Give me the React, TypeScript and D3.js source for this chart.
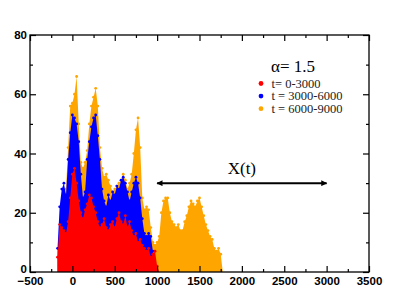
import React, { useEffect, useRef } from 'react';
import * as d3 from 'd3';

// x positions of the sampled envelope (particle position)
const positions = [
  -175, -150, -125, -100, -75, -50, -25, 0, 25, 50,
  75, 100, 125, 150, 175, 200, 225, 250, 275, 300,
  325, 350, 375, 400, 425, 450, 475, 500, 525, 550,
  575, 600, 625, 650, 675, 700, 725, 750, 775, 800,
  825, 850, 875, 900, 925, 950, 975, 1000, 1025, 1050,
  1075, 1100, 1125, 1150, 1175, 1200, 1225, 1250, 1275, 1300,
  1325, 1350, 1375, 1400, 1425, 1450, 1475, 1500, 1525, 1550,
  1575, 1600, 1625, 1650, 1675, 1700, 1725, 1750, 1775,
];

// t = 0-3000
const redTop = [
  5, 16, 15, 14, 13, 17, 25, 33, 35, 30,
  24, 20, 18, 21, 23, 26, 25, 22, 20, 17,
  15, 16, 18, 15, 14, 16, 17, 15, 18, 20,
  17, 16, 19, 15, 17, 14, 12, 13, 10, 11,
  9, 8, 7, 8, 5, 6, 7, 2, 0, 0,
  0, 0, 0, 0, 0, 0, 0, 0, 0, 0,
  0, 0, 0, 0, 0, 0, 0, 0, 0, 0,
  0, 0, 0, 0, 0, 0, 0, 0, 0,
];

// t = 3000-6000
const blueTop = [
  8, 22, 28, 30, 26, 38, 47, 53, 52, 50,
  44, 33, 25, 27, 38, 44, 49, 52, 53, 46,
  38, 28, 24, 22, 26, 24, 27, 26, 29, 28,
  31, 32, 30, 27, 24, 27, 30, 32, 30, 25,
  18, 13, 12, 13, 12, 7, 0, 0, 0, 0,
  0, 0, 0, 0, 0, 0, 0, 0, 0, 0,
  0, 0, 0, 0, 0, 0, 0, 0, 0, 0,
  0, 0, 0, 0, 0, 0, 0, 0, 0,
];

// t = 6000-9000
const orangeTop = [
  0, 0, 0, 22, 28, 42, 56, 57, 60, 66,
  50, 37, 35, 37, 41, 50, 56, 59, 62, 56,
  42, 35, 32, 33, 31, 29, 27, 28, 29, 30,
  31, 33, 31, 28, 30, 33, 40, 48, 52, 42,
  25, 21, 22, 21, 15, 10, 9, 10, 12, 20,
  24, 25, 25, 20, 17, 16, 15, 16, 14, 14,
  17, 19, 22, 24, 23, 22, 24, 25, 22, 19,
  16, 14, 12, 11, 8, 7, 8, 6, 0,
];

const seriesNames = ['t= 0-3000', 't = 3000-6000', 't = 6000-9000'];
const seriesColors = ['#ff0000', '#0000ff', '#ffa500'];

const xMajor = [-500, 0, 500, 1000, 1500, 2000, 2500, 3000, 3500];
const xMinor = [-250, 250, 750, 1250, 1750, 2250, 2750, 3250];
const yMajor = [0, 20, 40, 60, 80];
const yMinor = [10, 30, 50, 70];

const arrowFrom = 1000;
const arrowTo = 3000;
const arrowLevel = 30;

const W = 396;
const H = 306;

const Chart = () => {
  const svgRef = useRef(null);

  useEffect(() => {
    const svg = d3.select(svgRef.current);
    svg.selectAll('*').remove();

    const left = 30, right = 369, top = 35, bottom = 272;
    const x = d3.scaleLinear().domain([-500, 3500]).range([left, right]);
    const y = d3.scaleLinear().domain([0, 80]).range([bottom, top]);

    svg.append('rect').attr('width', W).attr('height', H).attr('fill', '#fff');

    const defs = svg.append('defs');
    defs.append('clipPath').attr('id', 'plot-clip')
      .append('rect')
      .attr('x', left).attr('y', top)
      .attr('width', right - left).attr('height', bottom - top);

    defs.append('marker')
      .attr('id', 'arrow-head')
      .attr('viewBox', '0 0 10 10')
      .attr('refX', 9).attr('refY', 5)
      .attr('markerWidth', 7).attr('markerHeight', 6)
      .attr('markerUnits', 'userSpaceOnUse')
      .attr('orient', 'auto-start-reverse')
      .append('path')
      .attr('d', 'M0,0 L10,5 L0,10 Z')
      .attr('fill', '#000');

    const plot = svg.append('g').attr('clip-path', 'url(#plot-clip)');

    const area = d3.area()
      .x((d, i) => x(positions[i]))
      .y0(y(0))
      .y1(d => y(d))
      .curve(d3.curveLinear);

    // back to front: late times first
    const layers = [
      { values: orangeTop, color: seriesColors[2] },
      { values: blueTop, color: seriesColors[1] },
      { values: redTop, color: seriesColors[0] },
    ];

    layers.forEach(layer => {
      plot.append('path')
        .datum(layer.values)
        .attr('d', area)
        .attr('fill', layer.color);

      plot.append('g')
        .selectAll('circle')
        .data(layer.values.map((v, i) => [positions[i], v]).filter(d => d[1] > 0))
        .enter()
        .append('circle')
        .attr('cx', d => x(d[0]))
        .attr('cy', d => y(d[1]))
        .attr('r', 1.4)
        .attr('fill', layer.color);
    });

    // ticks on all four sides, pointing inward
    const tickStyle = g => {
      g.select('.domain').remove();
      g.selectAll('line').attr('stroke', '#000').attr('stroke-width', 1.2);
      g.selectAll('text')
        .attr('fill', '#000')
        .style('font-family', '"Liberation Sans", Arial, sans-serif')
        .style('font-size', '11.5px')
        .style('font-weight', 'bold');
    };

    svg.append('g').attr('transform', `translate(0,${bottom})`)
      .call(d3.axisBottom(x).tickValues(xMajor).tickSize(-6).tickPadding(5).tickFormat(d3.format('d')))
      .call(tickStyle);
    svg.append('g').attr('transform', `translate(0,${bottom})`)
      .call(d3.axisBottom(x).tickValues(xMinor).tickSize(-3).tickFormat(() => ''))
      .call(tickStyle);
    svg.append('g').attr('transform', `translate(0,${top})`)
      .call(d3.axisTop(x).tickValues(xMajor).tickSize(-6).tickFormat(() => ''))
      .call(tickStyle);
    svg.append('g').attr('transform', `translate(0,${top})`)
      .call(d3.axisTop(x).tickValues(xMinor).tickSize(-3).tickFormat(() => ''))
      .call(tickStyle);

    const yAxis = svg.append('g').attr('transform', `translate(${left},0)`)
      .call(d3.axisLeft(y).tickValues(yMajor).tickSize(-6).tickPadding(3))
      .call(tickStyle);
    // lift the bottom "0" a touch so it clears the "-500" below it
    yAxis.selectAll('.tick text').filter(d => d === 0).attr('dy', '0.05em');

    svg.append('g').attr('transform', `translate(${left},0)`)
      .call(d3.axisLeft(y).tickValues(yMinor).tickSize(-3).tickFormat(() => ''))
      .call(tickStyle);
    svg.append('g').attr('transform', `translate(${right},0)`)
      .call(d3.axisRight(y).tickValues(yMajor).tickSize(-6).tickFormat(() => ''))
      .call(tickStyle);
    svg.append('g').attr('transform', `translate(${right},0)`)
      .call(d3.axisRight(y).tickValues(yMinor).tickSize(-3).tickFormat(() => ''))
      .call(tickStyle);

    svg.append('rect')
      .attr('x', left).attr('y', top)
      .attr('width', right - left).attr('height', bottom - top)
      .attr('fill', 'none')
      .attr('stroke', '#000')
      .attr('stroke-width', 1.3);

    // X(t) arrow
    svg.append('line')
      .attr('x1', x(arrowFrom)).attr('x2', x(arrowTo))
      .attr('y1', y(arrowLevel)).attr('y2', y(arrowLevel))
      .attr('stroke', '#000')
      .attr('stroke-width', 2)
      .attr('marker-start', 'url(#arrow-head)')
      .attr('marker-end', 'url(#arrow-head)');

    const serif = '"Liberation Serif", "Times New Roman", serif';

    svg.append('text')
      .attr('x', (x(arrowFrom) + x(arrowTo)) / 2)
      .attr('y', y(arrowLevel) - 9)
      .attr('text-anchor', 'middle')
      .style('font-family', serif)
      .style('font-size', '17px')
      .text('X(t)');

    // legend
    svg.append('text')
      .attr('x', 271)
      .attr('y', 72)
      .style('font-family', serif)
      .style('font-size', '17px')
      .text('α= 1.5');

    const legend = svg.append('g')
      .selectAll('g')
      .data(seriesNames)
      .enter()
      .append('g')
      .attr('transform', (d, i) => `translate(261, ${83.5 + i * 12.6})`);

    legend.append('circle')
      .attr('r', 2.4)
      .attr('fill', (d, i) => seriesColors[i]);

    legend.append('text')
      .attr('x', 10.5)
      .attr('y', 4)
      .style('font-family', serif)
      .style('font-size', '12.5px')
      .attr('fill', '#222')
      .text(d => d);
  }, []);

  return (
    <svg ref={svgRef} width={W} height={H}
      style={{ position: 'absolute', left: 0, top: 0, display: 'block' }} />
  );
};

export default function App() {
  return <Chart />;
}
